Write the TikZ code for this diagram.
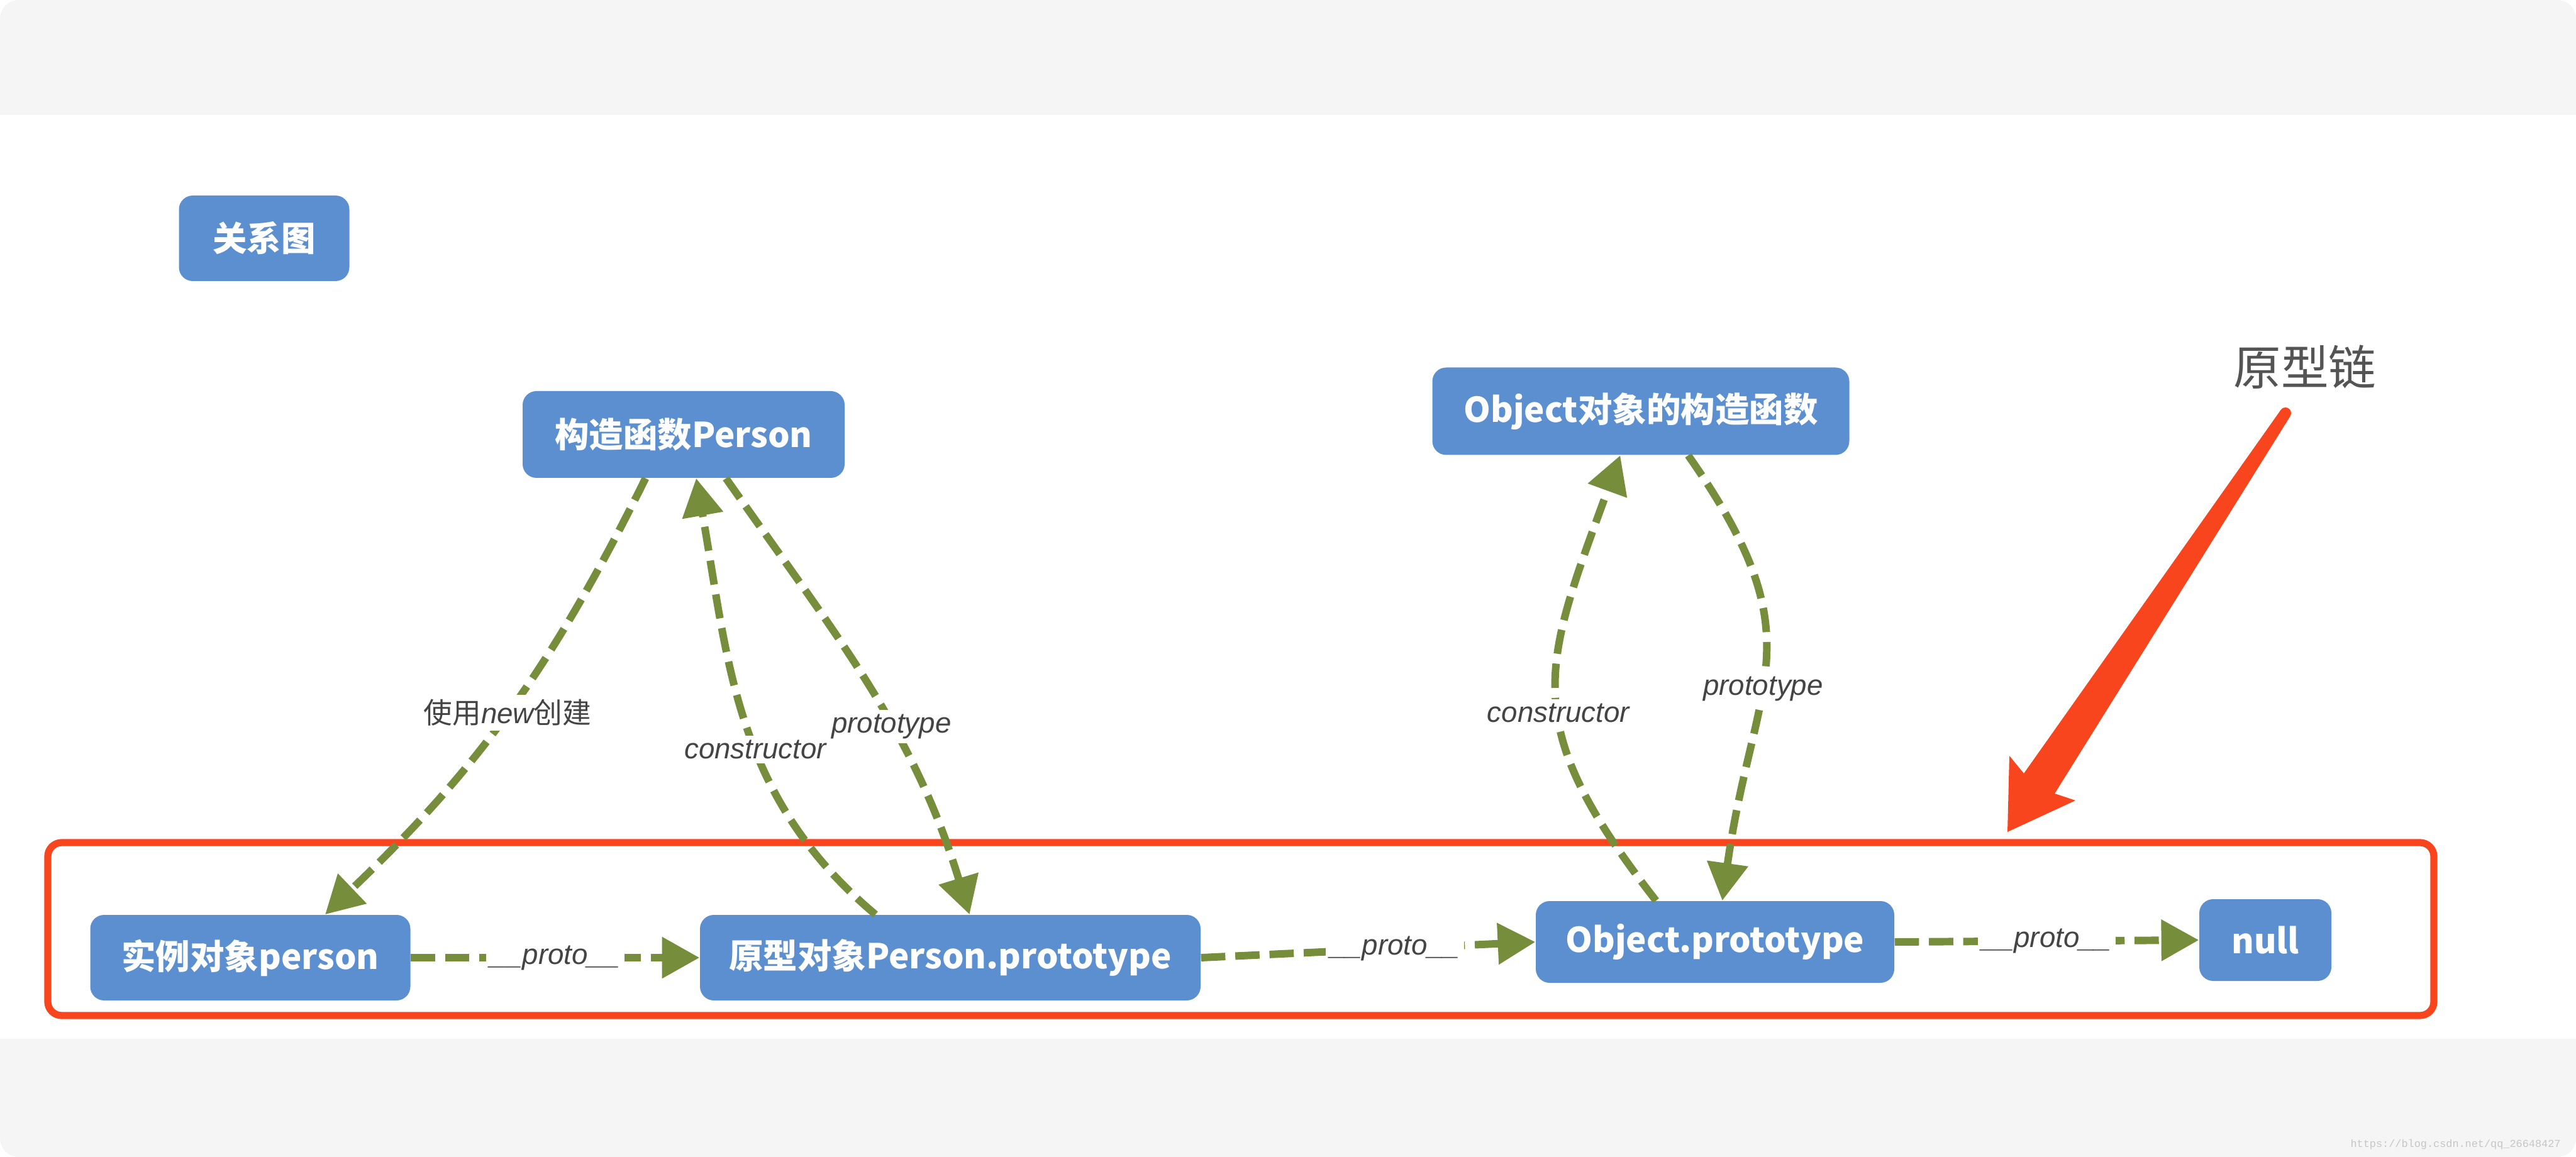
\documentclass[tikz,border=0pt]{standalone}
\usepackage{fontspec}
\usepackage{tikz}
\usepackage{xcolor}
\usetikzlibrary{arrows.meta, calc}
\setmainfont{Liberation Sans}
\newfontfamily\cjk{Noto Sans CJK SC}
\newfontfamily\markfont{Liberation Mono}
\definecolor{boxblue}{RGB}{92,143,207}
\definecolor{linkgreen}{RGB}{118,142,60}
\definecolor{chainred}{RGB}{249,69,30}
\definecolor{cardgray}{RGB}{245,245,245}
\definecolor{labelgray}{RGB}{68,68,68}

\begin{document}
\begin{tikzpicture}[
        objbox/.style={fill=boxblue, rounded corners=0.22cm, text=white, font=\cjk\bfseries\fontsize{15.5}{18}\selectfont, minimum height=1.36cm, inner sep=0pt},
        link/.style={linkgreen, line width=3.4pt, dash pattern=on 11pt off 4.5pt, -{Triangle[length=17pt,width=18pt]}},
        linklabel/.style={fill=white, text=labelgray, font=\fontsize{13}{15}\selectfont\itshape, inner sep=2pt}
    ]
            % Fond
            \useasboundingbox (0,0) rectangle (40.96,-18.40);
            \fill[white] (0,0) rectangle (40.96,-18.40);
            \fill[cardgray, rounded corners=0.3cm] (0,0) rectangle (40.96,-18.40);
            \fill[white] (0,-1.83) rectangle (40.96,-16.52);
            \node[text=gray!45, font=\markfont\fontsize{4.8}{6}\selectfont, anchor=east] (mark) at (40.84,-18.20) {https://blog.csdn.net/qq\_26648427};

            % Chaine de prototypes
            \draw[chainred, line width=3.2pt, rounded corners=0.22cm] (0.76,-13.40) rectangle (38.70,-16.15);
            \fill[chainred] (36.265,-6.52) -- (32.18,-12.30) -- (31.95,-12.02) -- (31.92,-13.23)
                -- (33.00,-12.73) -- (32.67,-12.62) -- (36.415,-6.62) -- cycle;
            \fill[chainred] (36.34,-6.57) circle (0.09);
            \node[text=black!67, font=\cjk\fontsize{21.5}{24}\selectfont] (chain) at (36.65,-5.84) {原型链};

            % Objets
            \node[objbox, minimum width=2.71cm] (rel) at (4.20,-3.79) {关系图};
            \node[objbox, minimum width=5.12cm, minimum height=1.38cm] (ctor) at (10.87,-6.91) {构造函数Person};
            \node[objbox, minimum width=6.63cm, minimum height=1.39cm] (objctor) at (26.09,-6.54) {Object对象的构造函数};
            \node[objbox, minimum width=5.09cm] (inst) at (3.98,-15.23) {实例对象person};
            \node[objbox, minimum width=7.96cm] (proto) at (15.11,-15.23) {原型对象Person.prototype};
            \node[objbox, minimum width=5.70cm, minimum height=1.30cm] (objproto) at (27.27,-14.98) {Object.prototype};
            \node[objbox, minimum width=2.10cm, minimum height=1.30cm] (null) at (36.02,-14.95) {null};

            % Liens
            \draw[link] (ctor.-131) to[bend left=10] node[linklabel, pos=0.5] {{\cjk 使用}new{\cjk 创建}} (inst.30);
            \draw[link] (proto.150) to[out=140,in=-80] node[linklabel, pos=0.43] {constructor} (ctor.-74);
            \draw[link] (ctor.-46) to[out=-55,in=107] node[linklabel, pos=0.6] {prototype} (proto.66);
            \draw[link] (objproto.145) to[out=128,in=-110,looseness=1.3] node[linklabel, pos=0.44] {constructor} (objctor.-115);
            \draw[link] (objctor.-43) to[out=-55,in=82,looseness=1.3] node[linklabel, pos=0.57] {prototype} (objproto.80);
            \draw[link] (inst.east) -- node[linklabel] {\_\_proto\_\_} (proto.west);
            \draw[link] (proto.east) -- node[linklabel, pos=0.58] {\_\_proto\_\_} (objproto.west);
            \draw[link] (objproto.east) -- node[linklabel] {\_\_proto\_\_} (null.west);
        \end{tikzpicture}
\end{document}
